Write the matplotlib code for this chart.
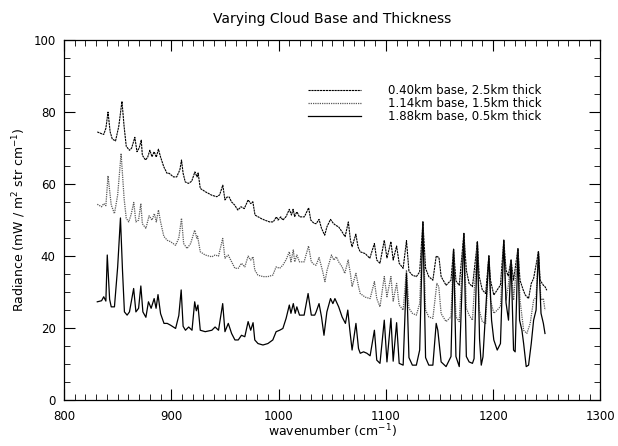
import matplotlib
matplotlib.use('Agg')
import matplotlib.pyplot as plt
from matplotlib.ticker import MultipleLocator

# 0.40km base, 2.5km thick (top curve)
wn_a = [831, 835, 837, 839, 841, 843, 845, 848, 851, 854, 856, 858, 861, 863, 866, 868, 870,
        872, 873, 876, 878, 880, 882, 884, 886, 888, 890, 893, 896, 898, 902, 905, 908, 909.5,
        911, 913, 916, 919, 922, 924, 925, 927, 931.6, 937.8, 942.4, 945, 948, 950, 952, 954,
        956, 959, 962, 965, 968, 971.6, 974, 976, 978, 981, 984, 987, 991.6, 995, 998, 999.5,
        1002, 1004, 1007, 1010, 1012, 1013.5, 1015, 1017, 1019.5, 1024, 1028, 1030, 1033, 1035,
        1037.7, 1040, 1043, 1045, 1048.4, 1051, 1053, 1056, 1059, 1062, 1065, 1067, 1068.5,
        1072, 1074, 1076, 1080.7, 1085, 1089.3, 1091.5, 1094.5, 1098.5, 1101, 1104.7, 1106.8,
        1110, 1112.4, 1116.1, 1119.2, 1121.5, 1124.7, 1128.4, 1131.5, 1134.5, 1137, 1140,
        1143.8, 1146.9, 1149.5, 1151.5, 1156.1, 1160.7, 1163.1, 1165.3, 1168.4, 1172.7, 1175,
        1177.6, 1180.7, 1185.3, 1187, 1189.9, 1193, 1196, 1197.5, 1200.6, 1203.8, 1206.8,
        1209.9, 1212, 1214, 1216.7, 1219, 1223.1, 1225, 1228, 1229.9, 1233, 1235.5, 1237.7,
        1242.2, 1243.8, 1246.8, 1248.3, 1250]
rad_a = [74.5, 74.0, 73.8, 75.5, 80.0, 74.5, 72.5, 72.0, 76.0, 83.0, 76.0, 70.5, 69.4, 70.0,
         73.0, 69.0, 70.0, 72.2, 68.0, 66.7, 67.5, 69.4, 67.6, 69.0, 67.5, 69.7, 67.5, 64.8,
         63.0, 63.0, 62.0, 62.0, 64.0, 66.7, 63.0, 60.6, 60.2, 60.8, 63.4, 62.0, 63.1, 58.8,
         57.9, 56.9, 56.5, 57.0, 59.7, 55.6, 56.4, 56.4, 55.1, 54.2, 52.8, 53.7, 53.2, 55.6,
         54.6, 55.1, 51.4, 50.9, 50.4, 50.0, 49.5, 49.5, 50.9, 50.0, 50.9, 50.0, 51.0, 53.0,
         51.4, 53.0, 51.0, 52.3, 50.9, 50.9, 53.4, 50.0, 49.1, 49.0, 50.2, 47.7, 45.8, 48.1,
         50.2, 49.1, 48.6, 48.1, 46.8, 45.4, 49.5, 44.4, 42.6, 46.1, 42.6, 41.2, 40.7, 39.4,
         43.5, 38.9, 38.0, 44.4, 39.5, 44.0, 38.9, 42.8, 38.0, 36.6, 44.3, 35.8, 34.7, 34.3,
         35.6, 49.5, 36.6, 34.3, 33.3, 40.0, 39.6, 34.3, 31.9, 33.3, 41.9, 33.1, 31.9, 46.3,
         36.1, 32.4, 31.5, 44.0, 34.3, 30.6, 29.6, 40.0, 33.3, 29.2, 30.6, 32.0, 44.4, 36.1,
         34.5, 38.9, 33.3, 42.1, 33.3, 30.6, 29.2, 28.2, 32.4, 33.8, 41.2, 33.3, 31.9, 31.5,
         30.5]

# 1.14km base, 1.5km thick (middle curve)
wn_b = [831, 835, 837, 839, 841, 844, 847, 850, 853.2, 856, 858, 860.3, 862.5, 865, 867,
        869.5, 871.6, 873, 876.3, 879.3, 882, 884.2, 886, 888, 890, 893, 896.2, 899.3, 904,
        907, 909.5, 911.5, 914.7, 918, 921.8, 923.8, 924.5, 927, 931.6, 937.8, 940.8, 944,
        947.9, 950, 953, 956.2, 959.3, 962.4, 965.4, 968.5, 971.6, 974, 976.2, 977.8, 980.8,
        985.4, 990, 994.6, 997.7, 1001, 1004, 1007, 1010, 1011.5, 1013.7, 1015, 1017, 1019.5,
        1023.8, 1027.9, 1030.5, 1033.7, 1035, 1037.7, 1040.8, 1043.2, 1045.2, 1049.3, 1051.5,
        1053.8, 1056, 1059.2, 1061.7, 1064.8, 1066.9, 1068.5, 1072.1, 1074.5, 1076.1, 1080.7,
        1085.3, 1089.3, 1091.5, 1094.5, 1098.5, 1101, 1104.7, 1106.8, 1110, 1112.4, 1116.1,
        1119.2, 1121.5, 1124.7, 1128.4, 1131.5, 1134.5, 1137, 1140, 1143.8, 1147.5, 1149.3,
        1151.5, 1156.1, 1160.7, 1163.1, 1165.3, 1168.4, 1172.7, 1175, 1177.6, 1180.7, 1185.3,
        1187, 1189.9, 1193, 1196, 1197.5, 1200.6, 1203.8, 1206.8, 1209.9, 1212, 1214, 1216.7,
        1219, 1223.1, 1225, 1228.4, 1231.4, 1234.5, 1237.7, 1240, 1242.2, 1244.5, 1246.8,
        1248.3]
rad_b = [54.4, 53.7, 54.6, 54.0, 62.3, 54.2, 51.8, 57.0, 68.5, 56.0, 50.5, 49.5, 51.5, 54.9,
         49.5, 50.0, 54.6, 49.0, 47.7, 51.2, 50.0, 51.8, 49.5, 52.8, 49.5, 45.5, 44.4, 44.0,
         43.0, 45.0, 50.5, 43.5, 42.1, 43.5, 47.2, 45.0, 45.5, 41.2, 40.3, 39.8, 40.3, 40.0,
         44.9, 39.4, 40.3, 38.4, 36.6, 36.6, 38.0, 37.0, 40.0, 38.9, 39.8, 36.1, 34.7, 34.3,
         34.3, 34.7, 37.0, 36.6, 37.5, 39.0, 41.2, 38.4, 41.7, 38.4, 40.3, 38.4, 38.4, 42.8,
         38.4, 37.5, 37.5, 39.6, 36.1, 32.9, 36.1, 40.3, 38.9, 39.8, 38.4, 37.0, 35.2, 38.9,
         35.2, 31.5, 35.2, 31.5, 29.6, 28.6, 28.2, 32.9, 28.2, 25.9, 34.3, 28.7, 34.3, 27.5,
         32.4, 26.4, 25.0, 36.1, 25.5, 24.1, 23.6, 26.8, 49.5, 25.0, 23.1, 22.7, 32.4, 31.5,
         24.0, 21.8, 23.1, 41.5, 23.1, 21.8, 46.3, 25.5, 23.6, 22.2, 44.0, 25.0, 21.8, 21.3,
         40.3, 27.8, 24.1, 25.0, 26.0, 44.4, 27.8, 31.5, 38.9, 27.8, 42.1, 27.8, 19.4, 18.5,
         21.3, 27.8, 28.6, 41.2, 27.8, 28.2, 25.0]

# 1.88km base, 0.5km thick (bottom curve)
wn_c = [831, 835, 837, 839, 840.3, 842.5, 844, 847, 850, 852.6, 854.5, 856.3, 858.8, 861,
        864.9, 867, 869.5, 871.6, 873.5, 876.3, 878.7, 881.2, 884, 885.8, 887.6, 890, 893.2,
        896.2, 899.3, 904, 907, 909.2, 911, 913.2, 916.2, 919.3, 921.8, 923.3, 924.8, 927,
        931.6, 937.8, 940.8, 944, 947.9, 950, 953.1, 956.2, 959.3, 962.4, 965.4, 968.5, 971.6,
        974, 976.2, 977.8, 980.8, 985.4, 990, 994.6, 997.7, 1001, 1004, 1007, 1010, 1011.5,
        1013.7, 1015.5, 1017, 1019.5, 1023.8, 1027.5, 1030.5, 1033.7, 1035, 1037.7, 1040,
        1042.3, 1045, 1048.4, 1050.6, 1052.5, 1056, 1059.2, 1062.3, 1064.5, 1066.4, 1068.5,
        1072.1, 1074.5, 1076.1, 1079.2, 1082.3, 1085.3, 1089.3, 1091.5, 1094.5, 1098.5, 1101,
        1104.7, 1106.8, 1110, 1112.4, 1116.1, 1119.2, 1121.5, 1124.7, 1128.4, 1131.5, 1134.5,
        1137, 1140, 1143.8, 1146.9, 1148.4, 1151.5, 1156.1, 1160.7, 1163.1, 1165.3, 1168.4,
        1172.7, 1175, 1177.6, 1180.7, 1182.2, 1185.3, 1187.3, 1188.9, 1190.5, 1196, 1198.5,
        1200.6, 1203.8, 1206.8, 1209.9, 1212, 1214.3, 1216.7, 1219, 1220.5, 1223.1, 1224.6,
        1226.8, 1228.4, 1230.8, 1233, 1235.5, 1237.7, 1240, 1242.2, 1244.6, 1246.8, 1248.3]
rad_c = [27.3, 27.6, 28.7, 27.5, 40.3, 28.0, 25.9, 25.9, 37.0, 50.6, 36.0, 24.5, 23.6, 24.5,
         31.0, 24.5, 25.5, 31.7, 24.5, 23.0, 27.3, 25.5, 28.2, 25.5, 29.3, 24.0, 21.3, 21.3,
         20.8, 19.9, 23.5, 30.6, 20.5, 19.4, 20.3, 19.4, 27.3, 24.8, 26.4, 19.4, 19.0, 19.4,
         20.3, 19.4, 26.8, 19.0, 21.3, 18.5, 16.7, 16.7, 18.0, 17.6, 21.8, 19.4, 21.5, 16.7,
         15.7, 15.3, 15.7, 16.7, 19.0, 19.4, 19.9, 22.7, 26.4, 24.1, 26.8, 24.1, 25.9, 23.6,
         23.6, 29.6, 23.6, 23.6, 24.5, 26.8, 23.1, 18.0, 24.5, 28.2, 26.8, 28.2, 25.9, 23.1,
         21.3, 25.0, 19.4, 13.9, 21.3, 14.3, 13.0, 13.4, 13.0, 12.3, 19.4, 11.1, 10.2, 22.2,
         10.6, 22.7, 10.8, 21.5, 10.2, 9.7, 35.2, 11.8, 9.7, 9.7, 13.9, 49.5, 11.8, 9.7, 9.7,
         21.3, 19.4, 10.6, 9.3, 12.1, 41.9, 12.1, 9.3, 46.3, 12.1, 10.6, 10.2, 11.5, 44.0,
         17.0, 9.7, 12.0, 40.0, 22.2, 16.7, 13.9, 15.7, 44.4, 27.0, 22.2, 38.9, 13.9, 13.4,
         42.1, 22.2, 19.4, 15.7, 9.3, 9.7, 15.7, 22.2, 25.0, 41.2, 24.1, 21.3, 18.5]

labels = ['0.40km base, 2.5km thick', '1.14km base, 1.5km thick', '1.88km base, 0.5km thick']

plt.rcParams['font.family'] = 'DejaVu Sans'
fig = plt.figure(figsize=(6.18, 4.46), dpi=100)
ax = fig.add_axes([0.1036, 0.103, 0.868, 0.807])

ax.plot(wn_a, rad_a, color='black', linewidth=0.8, linestyle=(0, (2, 0.6)), label=labels[0])
ax.plot(wn_b, rad_b, color='0.35', linewidth=0.9, linestyle=(0, (1, 0.8)), label=labels[1])
ax.plot(wn_c, rad_c, color='black', linewidth=0.9, label=labels[2])

ax.set_xlim(800, 1300)
ax.set_ylim(0, 100)
ax.xaxis.set_major_locator(MultipleLocator(100))
ax.xaxis.set_minor_locator(MultipleLocator(10))
ax.yaxis.set_major_locator(MultipleLocator(20))
ax.yaxis.set_minor_locator(MultipleLocator(5))
ax.tick_params(which='both', direction='in', top=True, right=True, labelsize=8.5)
ax.tick_params(which='major', length=8, width=0.8)
ax.tick_params(which='minor', length=4, width=0.6)
ax.tick_params(axis='x', which='major', pad=7)
ax.tick_params(axis='y', which='major', pad=6)
for sp in ax.spines.values():
    sp.set_linewidth(0.9)

ax.set_xlabel('wavenumber (cm$^{-1}$)', fontsize=9, labelpad=0)
ax.set_ylabel('Radiance (mW / m$^{2}$ str cm$^{-1}$)', fontsize=9, labelpad=4)
ax.set_title('Varying Cloud Base and Thickness', fontsize=10, pad=12)

ax.legend(loc='upper left', bbox_to_anchor=(0.455, 0.878), frameon=False, fontsize=8.5,
          handlelength=4.5, handletextpad=2.3, labelspacing=0.0, borderpad=0, borderaxespad=0)

plt.savefig('out.png', dpi=100)
